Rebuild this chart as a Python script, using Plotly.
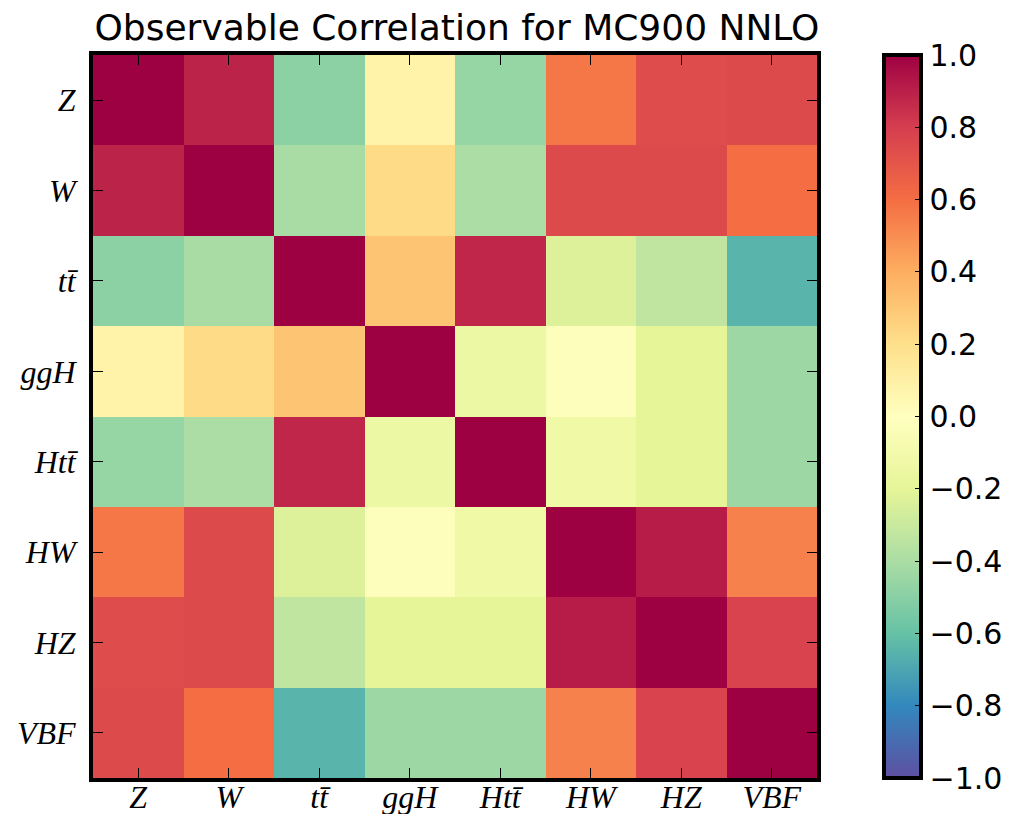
import plotly.graph_objects as go

labels = ["<i>Z</i>", "<i>W</i>", "<i>tt̄</i>", "<i>ggH</i>", "<i>Htt̄</i>", "<i>HW</i>", "<i>HZ</i>", "<i>VBF</i>"]

row_Z   = [1.00, 0.89, -0.49, 0.08, -0.46, 0.57, 0.74, 0.75]
row_W   = [0.89, 1.00, -0.41, 0.22, -0.40, 0.75, 0.75, 0.60]
row_tt  = [-0.49, -0.41, 1.00, 0.31, 0.88, -0.23, -0.33, -0.65]
row_ggH = [0.08, 0.22, 0.31, 1.00, -0.14, -0.02, -0.20, -0.44]
row_Htt = [-0.46, -0.40, 0.88, -0.14, 1.00, -0.13, -0.20, -0.44]
row_HW  = [0.57, 0.75, -0.23, -0.02, -0.13, 1.00, 0.91, 0.54]
row_HZ  = [0.74, 0.75, -0.33, -0.20, -0.20, 0.91, 1.00, 0.78]
row_VBF = [0.75, 0.60, -0.65, -0.44, -0.44, 0.54, 0.78, 1.00]

z = [row_Z, row_W, row_tt, row_ggH, row_Htt, row_HW, row_HZ, row_VBF]

spectral = ["#5e4fa2", "#3288bd", "#66c2a5", "#abdda4", "#e6f598", "#ffffbf",
            "#fee08b", "#fdae61", "#f46d43", "#d53e4f", "#9e0142"]
colorscale = [[i / (len(spectral) - 1), c] for i, c in enumerate(spectral)]

# page body has an 8px margin; keep the figure inside the window
OFF = 8
W, H = 1023 - 2 * OFF, 822 - 2 * OFF
L, R, T, B = 93 - OFF, 817 - OFF, 55 - OFF, 778 - OFF
CB_X = 884 - OFF

fig = go.Figure(go.Heatmap(
    z=z, x=labels, y=labels,
    colorscale=colorscale, zmin=-1, zmax=1,
    colorbar=dict(
        x=(CB_X - L) / (R - L), xanchor="left", xpad=0,
        y=0.5, yanchor="middle", len=1.0, lenmode="fraction", ypad=0,
        thickness=37, thicknessmode="pixels",
        outlinewidth=4, outlinecolor="black",
        tickmode="linear", tick0=-1, dtick=0.2, tickformat=".1f",
        ticks="inside", ticklen=8, tickwidth=1, tickcolor="black",
        tickfont=dict(family="DejaVu Sans", size=30, color="black"),
    ),
    hoverinfo="skip",
))

axis_common = dict(
    showline=True, linewidth=4, linecolor="black", mirror="ticks",
    ticks="inside", ticklen=10, tickwidth=1, tickcolor="black",
    showgrid=False, zeroline=False, automargin=False,
    tickfont=dict(family="Liberation Serif", size=32, color="black"),
)

fig.update_layout(
    width=W, height=H,
    margin=dict(l=L, r=W - R, t=T, b=H - B, pad=0, autoexpand=False),
    paper_bgcolor="white", plot_bgcolor="white",
    title=dict(text="Observable Correlation for MC900 NNLO",
               font=dict(family="DejaVu Sans", size=36, color="black"),
               x=(457 - OFF) / W, xanchor="center", xref="container",
               y=1 - (27 - OFF) / H, yanchor="middle", yref="container",
               automargin=False),
    xaxis=dict(**axis_common, side="bottom", ticklabelstandoff=-12),
    yaxis=dict(**axis_common, autorange="reversed", ticklabelstandoff=7),
)

fig.write_html("out.html")
